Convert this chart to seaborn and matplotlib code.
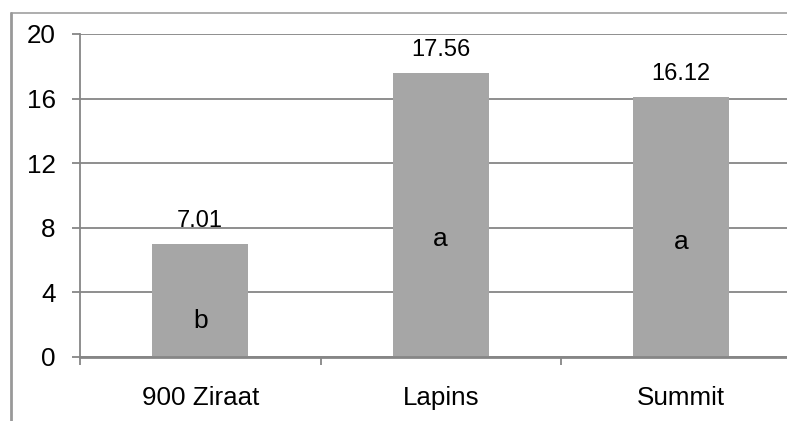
import matplotlib
matplotlib.use("Agg")
import matplotlib.pyplot as plt
from matplotlib.lines import Line2D
from matplotlib.ticker import FixedLocator
import seaborn as sns
import pandas as pd

categories = ["900 Ziraat", "Lapins", "Summit"]
values = [7.01, 17.56, 16.12]
value_labels = ["7.01", "17.56", "16.12"]
letters = ["b", "a", "a"]
y_ticks = [0, 4, 8, 12, 16, 20]

sns.set_theme(style="white")
plt.rcParams["font.family"] = ["Liberation Sans", "DejaVu Sans"]

df = pd.DataFrame({"cat": categories, "val": values})

fig = plt.figure(figsize=(7.87, 4.21), dpi=100)
ax = fig.add_axes([80.0 / 787, 1 - 356.7 / 421, 721.5 / 787, (356.7 - 34) / 421])

sns.barplot(data=df, x="cat", y="val", color="#a6a6a6", width=0.4,
            saturation=1, ax=ax, zorder=3, linewidth=0, edgecolor="none")

gc = "#868686"
ax.set_xlim(-0.5, 2.5)
ax.set_ylim(0, 20)
ax.set_yticks(y_ticks)
ax.set_yticklabels([str(t) for t in y_ticks])
ax.grid(axis="y", color=gc, linewidth=1.3, zorder=0)
ax.set_axisbelow(True)
for s in ["top", "right"]:
    ax.spines[s].set_visible(False)
ax.spines["left"].set_color(gc)
ax.spines["left"].set_linewidth(1.3)
ax.spines["bottom"].set_color(gc)
ax.spines["bottom"].set_linewidth(2.0)
ax.spines["left"].set_zorder(4)
ax.spines["bottom"].set_zorder(4)

ax.tick_params(axis="y", direction="out", length=5.5, width=1.3, color=gc,
               pad=12, labelsize=18.7, labelcolor="black", left=True)
ax.tick_params(axis="x", which="major", length=0, pad=21, labelsize=18.7,
               labelcolor="black")
ax.xaxis.set_minor_locator(FixedLocator([-0.5, 0.5, 1.5, 2.5]))
ax.tick_params(axis="x", which="minor", direction="out", length=5.5, width=1.3,
               color=gc, bottom=True)
ax.set_xlabel("")
ax.set_ylabel("")

letter_y = [2.2, 7.3, 7.1]
for i, (v, lab, let) in enumerate(zip(values, value_labels, letters)):
    ax.text(i, v + 1.05, lab, ha="center", va="baseline", fontsize=17,
            color="black", zorder=5)
    ax.text(i, letter_y[i], let, ha="center", va="center", fontsize=19,
            color="black", zorder=5)

# outer frame lines (top and left)
fig.add_artist(Line2D([10.5 / 787, 1.0], [1 - 13.3 / 421, 1 - 13.3 / 421],
                      transform=fig.transFigure, color="#a0a0a0", linewidth=1.2))
fig.add_artist(Line2D([11.3 / 787, 11.3 / 787], [0, 1 - 13.3 / 421],
                      transform=fig.transFigure, color="#999999", linewidth=2.0))

fig.savefig("out.png", dpi=100)
